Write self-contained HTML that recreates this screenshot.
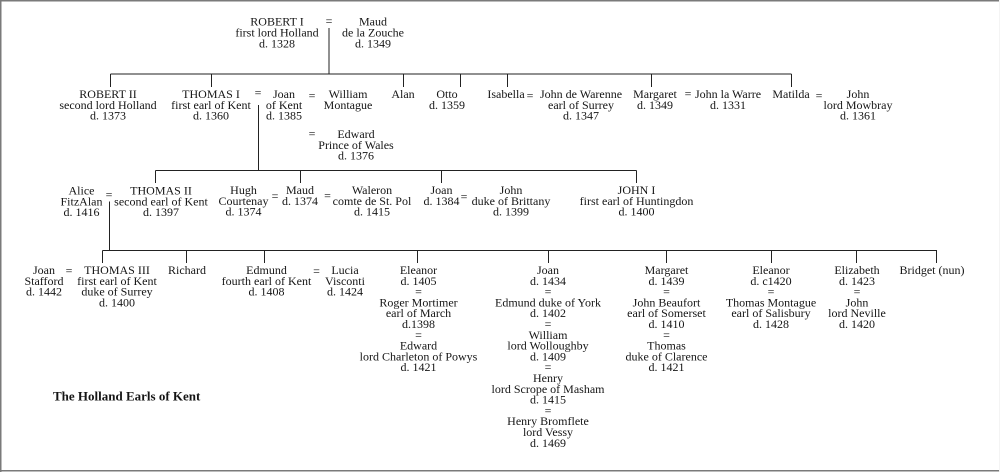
<!DOCTYPE html>
<html><head><meta charset="utf-8"><style>
html,body{margin:0;padding:0;background:#fff;}
svg{display:block;}
text{font-family:"Liberation Serif",serif;font-size:12px;fill:#151515;text-anchor:middle;}
.t{font-weight:bold;font-size:13px;text-anchor:start;}
</style></head><body>
<svg width="1000" height="472" viewBox="0 0 1000 472" xmlns="http://www.w3.org/2000/svg">
<rect x="0" y="0" width="1000" height="472" fill="#fff"/>
<g stroke="#7a7a7a" stroke-width="1.5" fill="none">
<line x1="0" y1="0.75" x2="1000" y2="0.75"/>
<line x1="0.75" y1="0" x2="0.75" y2="472"/>
<line x1="0" y1="470.75" x2="1000" y2="470.75"/>
</g>
<line x1="999.5" y1="0" x2="999.5" y2="472" stroke="#f4f4f4" stroke-width="1"/>
<g stroke="#222" stroke-width="1" fill="none" shape-rendering="crispEdges">
<!-- gen 1 -->
<line x1="329" y1="28" x2="329" y2="74"/>
<line x1="110.5" y1="74" x2="791.5" y2="74"/>
<line x1="110.5" y1="74" x2="110.5" y2="87"/>
<line x1="211.5" y1="74" x2="211.5" y2="87"/>
<line x1="403.5" y1="74" x2="403.5" y2="87"/>
<line x1="460.5" y1="74" x2="460.5" y2="87"/>
<line x1="507.5" y1="74" x2="507.5" y2="87"/>
<line x1="651.5" y1="74" x2="651.5" y2="87"/>
<line x1="791.5" y1="74" x2="791.5" y2="87"/>
<!-- gen 2 -->
<line x1="258.5" y1="105" x2="258.5" y2="170.5"/>
<line x1="155.5" y1="170.5" x2="636.5" y2="170.5"/>
<line x1="155.5" y1="170.5" x2="155.5" y2="183"/>
<line x1="300.5" y1="170.5" x2="300.5" y2="183"/>
<line x1="441.5" y1="170.5" x2="441.5" y2="183"/>
<line x1="636.5" y1="170.5" x2="636.5" y2="183"/>
<!-- gen 3 -->
<line x1="109.5" y1="201.5" x2="109.5" y2="250.5"/>
<line x1="102.5" y1="250.5" x2="937" y2="250.5"/>
<line x1="102.5" y1="250.5" x2="102.5" y2="263"/>
<line x1="186.5" y1="250.5" x2="186.5" y2="263"/>
<line x1="264.5" y1="250.5" x2="264.5" y2="263"/>
<line x1="417.5" y1="250.5" x2="417.5" y2="263"/>
<line x1="548.5" y1="250.5" x2="548.5" y2="263"/>
<line x1="666.5" y1="250.5" x2="666.5" y2="263"/>
<line x1="771.5" y1="250.5" x2="771.5" y2="263"/>
<line x1="856.5" y1="250.5" x2="856.5" y2="263"/>
<line x1="936.5" y1="250.5" x2="936.5" y2="263"/>
</g>

<!-- Row 1 -->
<text x="277" y="25.7"><tspan x="277">ROBERT I</tspan><tspan x="277" dy="10.8">first lord Holland</tspan><tspan x="277" dy="10.8">d. 1328</tspan></text>
<text x="329" y="25">=</text>
<text x="373" y="25.7"><tspan x="373">Maud</tspan><tspan x="373" dy="10.8">de la Zouche</tspan><tspan x="373" dy="10.8">d. 1349</tspan></text>

<!-- Row 2 -->
<text x="108" y="98"><tspan x="108">ROBERT II</tspan><tspan x="108" dy="10.8">second lord Holland</tspan><tspan x="108" dy="10.8">d. 1373</tspan></text>
<text x="211" y="98"><tspan x="211">THOMAS I</tspan><tspan x="211" dy="10.8">first earl of Kent</tspan><tspan x="211" dy="10.8">d. 1360</tspan></text>
<text x="258" y="96.5">=</text>
<text x="284" y="98"><tspan x="284">Joan</tspan><tspan x="284" dy="10.8">of Kent</tspan><tspan x="284" dy="10.8">d. 1385</tspan></text>
<text x="312" y="99.5">=</text>
<text x="348" y="98"><tspan x="348">William</tspan><tspan x="348" dy="10.8">Montague</tspan></text>
<text x="403" y="98">Alan</text>
<text x="447" y="98"><tspan x="447">Otto</tspan><tspan x="447" dy="10.8">d. 1359</tspan></text>
<text x="506" y="98">Isabella</text>
<text x="530" y="99.5">=</text>
<text x="581" y="98"><tspan x="581">John de Warenne</tspan><tspan x="581" dy="10.8">earl of Surrey</tspan><tspan x="581" dy="10.8">d. 1347</tspan></text>
<text x="655" y="98"><tspan x="655">Margaret</tspan><tspan x="655" dy="10.8">d. 1349</tspan></text>
<text x="688" y="97.5">=</text>
<text x="728" y="98"><tspan x="728">John la Warre</tspan><tspan x="728" dy="10.8">d. 1331</tspan></text>
<text x="791" y="98">Matilda</text>
<text x="819" y="99.5">=</text>
<text x="858" y="98"><tspan x="858">John</tspan><tspan x="858" dy="10.8">lord Mowbray</tspan><tspan x="858" dy="10.8">d. 1361</tspan></text>

<text x="312" y="137.5">=</text>
<text x="356" y="138"><tspan x="356">Edward</tspan><tspan x="356" dy="10.8">Prince of Wales</tspan><tspan x="356" dy="10.8">d. 1376</tspan></text>

<!-- Row 3 -->
<text x="81.5" y="194.5"><tspan x="81.5">Alice</tspan><tspan x="81.5" dy="10.8">FitzAlan</tspan><tspan x="81.5" dy="10.8">d. 1416</tspan></text>
<text x="109" y="198.5">=</text>
<text x="161" y="194.5"><tspan x="161">THOMAS II</tspan><tspan x="161" dy="10.8">second earl of Kent</tspan><tspan x="161" dy="10.8">d. 1397</tspan></text>
<text x="243.5" y="194"><tspan x="243.5">Hugh</tspan><tspan x="243.5" dy="10.8">Courtenay</tspan><tspan x="243.5" dy="10.8">d. 1374</tspan></text>
<text x="275" y="200">=</text>
<text x="300" y="194"><tspan x="300">Maud</tspan><tspan x="300" dy="10.8">d. 1374</tspan></text>
<text x="327.5" y="199.5">=</text>
<text x="372" y="194"><tspan x="372">Waleron</tspan><tspan x="372" dy="10.8">comte de St. Pol</tspan><tspan x="372" dy="10.8">d. 1415</tspan></text>
<text x="441.5" y="194"><tspan x="441.5">Joan</tspan><tspan x="441.5" dy="10.8">d. 1384</tspan></text>
<text x="464" y="200.5">=</text>
<text x="511" y="194"><tspan x="511">John</tspan><tspan x="511" dy="10.8">duke of Brittany</tspan><tspan x="511" dy="10.8">d. 1399</tspan></text>
<text x="636.5" y="194"><tspan x="636.5">JOHN I</tspan><tspan x="636.5" dy="10.8">first earl of Huntingdon</tspan><tspan x="636.5" dy="10.8">d. 1400</tspan></text>

<!-- Row 4 -->
<text x="44" y="274"><tspan x="44">Joan</tspan><tspan x="44" dy="10.8">Stafford</tspan><tspan x="44" dy="10.8">d. 1442</tspan></text>
<text x="69" y="274.5">=</text>
<text x="117" y="274"><tspan x="117">THOMAS III</tspan><tspan x="117" dy="10.8">first earl of Kent</tspan><tspan x="117" dy="10.8">duke of Surrey</tspan><tspan x="117" dy="10.8">d. 1400</tspan></text>
<text x="187" y="274">Richard</text>
<text x="266.5" y="274"><tspan x="266.5">Edmund</tspan><tspan x="266.5" dy="10.8">fourth earl of Kent</tspan><tspan x="266.5" dy="10.8">d. 1408</tspan></text>
<text x="316.5" y="275">=</text>
<text x="345" y="274"><tspan x="345">Lucia</tspan><tspan x="345" dy="10.8">Visconti</tspan><tspan x="345" dy="10.8">d. 1424</tspan></text>

<text x="418.5" y="274"><tspan x="418.5">Eleanor</tspan><tspan x="418.5" dy="10.8">d. 1405</tspan><tspan x="418.5" dy="10.8">=</tspan><tspan x="418.5" dy="10.8">Roger Mortimer</tspan><tspan x="418.5" dy="10.8">earl of March</tspan><tspan x="418.5" dy="10.8">d.1398</tspan><tspan x="418.5" dy="10.8">=</tspan><tspan x="418.5" dy="10.8">Edward</tspan><tspan x="418.5" dy="10.8">lord Charleton of Powys</tspan><tspan x="418.5" dy="10.8">d. 1421</tspan></text>

<text x="548" y="274"><tspan x="548">Joan</tspan><tspan x="548" dy="10.8">d. 1434</tspan><tspan x="548" dy="10.8">=</tspan><tspan x="548" dy="10.8">Edmund duke of York</tspan><tspan x="548" dy="10.8">d. 1402</tspan><tspan x="548" dy="10.8">=</tspan><tspan x="548" dy="10.8">William</tspan><tspan x="548" dy="10.8">lord Wolloughby</tspan><tspan x="548" dy="10.8">d. 1409</tspan><tspan x="548" dy="10.8">=</tspan><tspan x="548" dy="10.8">Henry</tspan><tspan x="548" dy="10.8">lord Scrope of Masham</tspan><tspan x="548" dy="10.8">d. 1415</tspan><tspan x="548" dy="10.8">=</tspan><tspan x="548" dy="10.8">Henry Bromflete</tspan><tspan x="548" dy="10.8">lord Vessy</tspan><tspan x="548" dy="10.8">d. 1469</tspan></text>

<text x="666.5" y="274"><tspan x="666.5">Margaret</tspan><tspan x="666.5" dy="10.8">d. 1439</tspan><tspan x="666.5" dy="10.8">=</tspan><tspan x="666.5" dy="10.8">John Beaufort</tspan><tspan x="666.5" dy="10.8">earl of Somerset</tspan><tspan x="666.5" dy="10.8">d. 1410</tspan><tspan x="666.5" dy="10.8">=</tspan><tspan x="666.5" dy="10.8">Thomas</tspan><tspan x="666.5" dy="10.8">duke of Clarence</tspan><tspan x="666.5" dy="10.8">d. 1421</tspan></text>

<text x="771" y="274"><tspan x="771">Eleanor</tspan><tspan x="771" dy="10.8">d. c1420</tspan><tspan x="771" dy="10.8">=</tspan><tspan x="771" dy="10.8">Thomas Montague</tspan><tspan x="771" dy="10.8">earl of Salisbury</tspan><tspan x="771" dy="10.8">d. 1428</tspan></text>

<text x="857" y="274"><tspan x="857">Elizabeth</tspan><tspan x="857" dy="10.8">d. 1423</tspan><tspan x="857" dy="10.8">=</tspan><tspan x="857" dy="10.8">John</tspan><tspan x="857" dy="10.8">lord Neville</tspan><tspan x="857" dy="10.8">d. 1420</tspan></text>

<text x="932" y="274">Bridget (nun)</text>

<text class="t" x="53" y="400.5">The Holland Earls of Kent</text>
</svg>
</body></html>
